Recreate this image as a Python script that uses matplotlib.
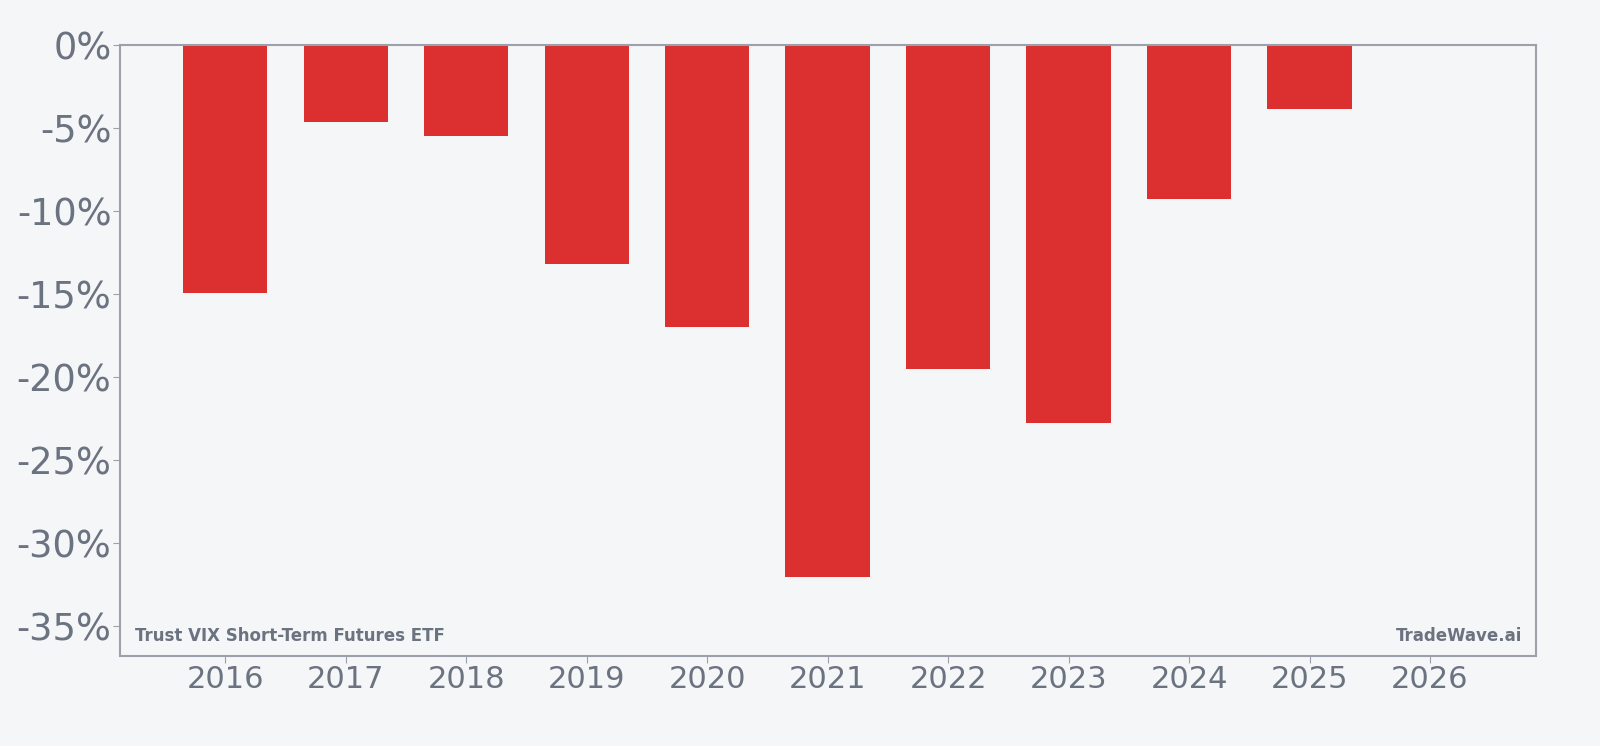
import matplotlib
matplotlib.use("Agg")
import matplotlib.pyplot as plt
from matplotlib.ticker import FuncFormatter

years = [2016, 2017, 2018, 2019, 2020, 2021, 2022, 2023, 2024, 2025]
returns = [-14.95, -4.65, -5.5, -13.2, -17.0, -32.05, -19.5, -22.8, -9.3, -3.85]
xticks = list(range(2016, 2027))
yticks = [0, -5, -10, -15, -20, -25, -30, -35]

bg = "#f4f6f8"
grey = "#6b7280"
spine = "#9ca0ab"
red = "#dc3030"

fig = plt.figure(figsize=(16, 7.46), dpi=100, facecolor=bg)
ax = fig.add_axes([0.0753, 0.121, 0.8847, 0.8187], facecolor=bg)
ax.bar(years, returns, width=0.7, color=red, zorder=2)
ax.set_xlim(2015.13, 2026.88)
ax.set_ylim(-36.8, 0)
ax.set_xticks(xticks)
ax.set_yticks(yticks)
ax.yaxis.set_major_formatter(FuncFormatter(lambda v, p: f"{int(round(v))}%"))
ax.tick_params(axis="y", labelsize=26.5, colors=grey, length=5, color=spine, pad=1.5)
ax.tick_params(axis="x", labelsize=22, colors=grey, length=5, color=spine, pad=2)
for s in ax.spines.values():
    s.set_color(spine)
    s.set_linewidth(1.5)
ax.text(0.01, 0.018, "Trust VIX Short-Term Futures ETF", transform=ax.transAxes,
        fontsize=12, fontweight="bold", color=grey, ha="left", va="bottom")
ax.text(0.99, 0.018, "TradeWave.ai", transform=ax.transAxes,
        fontsize=12, fontweight="bold", color=grey, ha="right", va="bottom")
fig.savefig("out.png", dpi=100, facecolor=bg)
